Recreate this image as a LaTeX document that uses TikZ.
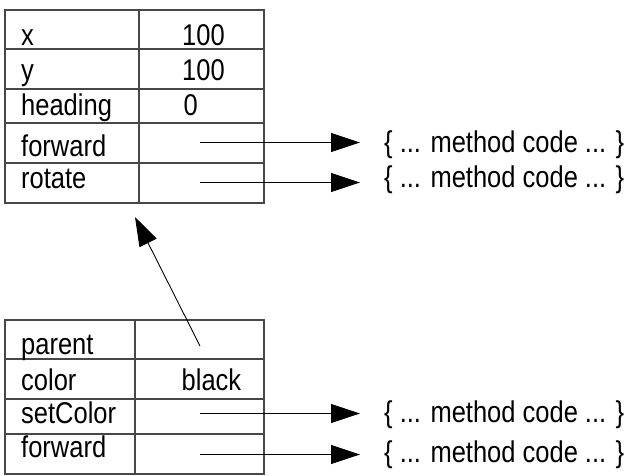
\documentclass[tikz,border=0pt]{standalone}
\usepackage{fontspec}
\setmainfont[FakeStretch=0.85]{Liberation Sans}
\usetikzlibrary{arrows.meta}
\begin{document}
\begin{tikzpicture}[x=1pt,y=-1pt,
  tableline/.style={draw=black!72,line width=1.2pt},
  lbl/.style={anchor=base west,inner sep=0pt,font=\fontsize{30}{36}\selectfont},
  ptr/.style={draw=black,line width=0.9pt,-{Triangle[length=29pt,width=19pt]}}]
\useasboundingbox (0,0) rectangle (629,475);
% top table
\draw[tableline] (5,10) rectangle (264,203);
\foreach \yy in {49,89,123,163} \draw[tableline] (5,\yy) -- (264,\yy);
\draw[tableline] (139,10) -- (139,203);
\node[lbl] (tx) at (21,45) {x};
\node[lbl] (ty) at (21,80) {y};
\node[lbl] (th) at (21,115) {heading};
\node[lbl] (tf) at (21,156) {forward};
\node[lbl] (tr) at (21,188) {rotate};
\node[lbl] (vx) at (182,45) {100};
\node[lbl] (vy) at (182,80) {100};
\node[lbl] (vh) at (183.5,115) {0};
% bottom table
\draw[tableline] (5,320) rectangle (264,474);
\foreach \yy in {359,399,434} \draw[tableline] (5,\yy) -- (264,\yy);
\draw[tableline] (135,320) -- (135,474);
\node[lbl] (bp) at (21,354) {parent};
\node[lbl] (bc) at (21,390) {color};
\node[lbl] (bs) at (21,423) {setColor};
\node[lbl] (bf) at (21,457) {forward};
\node[lbl] (vc) at (181.5,390) {black};
% method code texts
\node[lbl] (m1) at (384,152) {\{ ... method code ... \}};
\node[lbl] (m2) at (384,187) {\{ ... method code ... \}};
\node[lbl] (m3) at (384,422) {\{ ... method code ... \}};
\node[lbl] (m4) at (384,462) {\{ ... method code ... \}};
% arrow coordinates
\coordinate (s1) at (200,142.5);
\coordinate (e1) at (360,142.5);
\coordinate (s2) at (200,182.5);
\coordinate (e2) at (360,182.5);
\coordinate (s3) at (200,413.5);
\coordinate (e3) at (360,413.5);
\coordinate (s4) at (200,454.5);
\coordinate (e4) at (360,454.5);
\coordinate (ps) at (200,346);
\coordinate (pe) at (135,217);
\draw[ptr] (s1) -- (e1);
\draw[ptr] (s2) -- (e2);
\draw[ptr] (s3) -- (e3);
\draw[ptr] (s4) -- (e4);
\draw[ptr] (ps) -- (pe);
\end{tikzpicture}
\end{document}
